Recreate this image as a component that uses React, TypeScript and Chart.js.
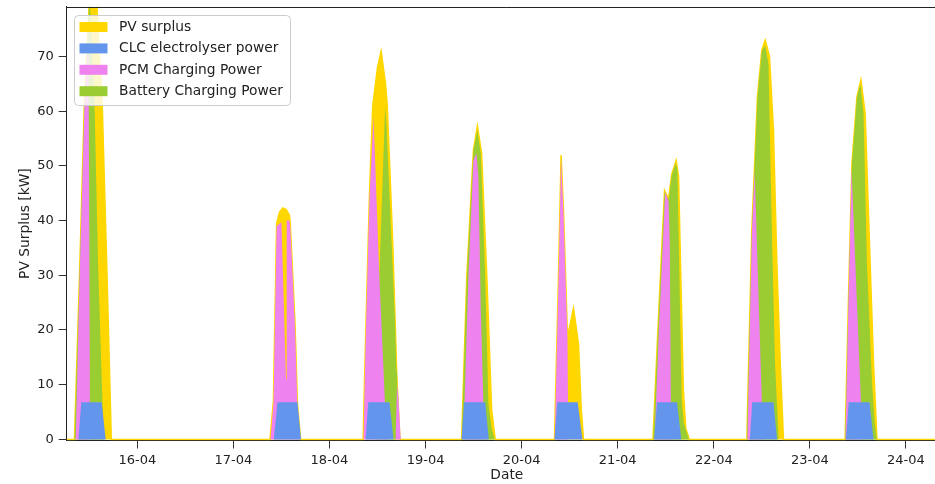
import React, { useEffect, useRef } from 'react';
import { Chart, registerables } from 'chart.js';

Chart.register(...registerables);
Chart.defaults.font.family = "'DejaVu Sans', sans-serif";

// ---- data (hours of day per date index; 0 = 15-04) ----
const dayLabels = ['15-04', '16-04', '17-04', '18-04', '19-04', '20-04', '21-04', '22-04', '23-04', '24-04'];
const xTickHours = [24, 48, 72, 96, 120, 144, 168, 192, 216];
const yTicks = [0, 10, 20, 30, 40, 50, 60, 70];
const seriesNames = ['PV surplus', 'CLC electrolyser power', 'PCM Charging Power', 'Battery Charging Power'];
const seriesColors = ['#FFD700', '#6495ED', '#EE82EE', '#9ACD32'];

type Day = [number, [number, number][]];

const pvSurplus: Day[] = [
  [0, [[8.3, 0], [9.6, 31], [10.8, 62], [12.0, 80], [13.0, 88], [13.9, 79], [15.2, 62], [16.4, 31], [17.5, 0]]],
  [2, [[9.15, 0], [10.0, 7], [10.8, 39.5], [11.5, 41.5], [12.3, 42.3], [13.2, 42], [14.0, 41], [14.2, 39.5], [15.4, 21], [16.0, 6.6], [16.8, 0]]],
  [3, [[8.4, 0], [9.0, 18], [10.0, 45], [10.8, 61], [12.0, 68], [12.9, 71], [14.0, 65], [14.45, 61], [15.8, 36], [16.8, 12], [17.6, 0]]],
  [4, [[9.0, 0], [10.3, 29.7], [11.95, 52.9], [12.95, 57.3], [14.0, 52.3], [15.3, 29.7], [16.5, 5.4], [17.4, 0]]],
  [5, [[8.2, 0], [9.2, 29.7], [9.85, 52], [10.45, 41.9], [11.45, 18.8], [12.95, 24], [14.2, 17.5], [14.9, 5.4], [15.45, 0]]],
  [6, [[8.8, 0], [10.2, 22.6], [11.7, 45.5], [12.7, 44], [13.5, 48.5], [14.6, 51], [15.2, 48], [16.4, 9], [17.0, 2], [17.9, 0]]],
  [7, [[8.25, 0], [9.5, 38.3], [10.9, 62.6], [12.0, 71.2], [12.85, 73], [13.9, 70], [14.9, 56.5], [15.75, 32.2], [16.6, 13.9], [17.4, 0]]],
  [8, [[8.8, 0], [9.65, 26], [10.5, 50.4], [11.75, 62.6], [12.75, 65.7], [13.8, 59.6], [15.05, 32.2], [15.9, 13.9], [16.75, 0]]],
];

const clcPower: Day[] = [
  [0, [[9.3, 0], [10.0, 6.8], [15.1, 6.8], [16.1, 0]]],
  [2, [[10.1, 0], [11.0, 6.8], [16.0, 6.8], [16.9, 0]]],
  [3, [[9.0, 0], [9.7, 6.8], [15.0, 6.8], [16.0, 0]]],
  [4, [[9.0, 0], [9.6, 6.8], [14.9, 6.8], [15.8, 0]]],
  [5, [[8.2, 0], [8.9, 6.8], [14.0, 6.8], [15.2, 0]]],
  [6, [[9.1, 0], [9.8, 6.8], [14.8, 6.8], [15.9, 0]]],
  [7, [[9.0, 0], [9.6, 6.8], [14.9, 6.8], [15.8, 0]]],
  [8, [[9.0, 0], [9.7, 6.8], [14.9, 6.8], [15.9, 0]]],
];

const pcmPower: Day[] = [
  [0, [[8.6, 0], [9.6, 30], [10.8, 61], [11.8, 74], [12.2, 0]]],
  [2, [[9.25, 0], [10.0, 6.5], [10.8, 39], [12.0, 39.7], [13.15, 11], [13.3, 40], [14.0, 40], [14.2, 39], [15.4, 20.5], [16.0, 6.2], [16.75, 0]]],
  [3, [[8.5, 0], [9.0, 17.5], [10.0, 44.5], [11.0, 59], [12.45, 30], [13.9, 6], [14.8, 0], [16.5, 0], [16.9, 10], [17.2, 8], [17.8, 0]]],
  [4, [[9.45, 0], [10.7, 29.7], [11.95, 51], [12.7, 52.3], [13.2, 48], [13.8, 23.6], [14.45, 6.6], [15.0, 0]]],
  [5, [[8.25, 0], [9.2, 29], [9.85, 51.5], [10.45, 41.5], [11.45, 18.5], [11.65, 0]]],
  [6, [[9.2, 0], [10.4, 22], [11.85, 45.2], [12.7, 43.5], [13.0, 36], [13.3, 5], [13.5, 0]]],
  [7, [[8.4, 0], [9.5, 37.5], [10.2, 49], [12.0, 7], [12.3, 0]]],
  [8, [[8.9, 0], [9.65, 25.5], [10.4, 49.5], [12.75, 7], [13.0, 0]]],
];

const batteryPower: Day[] = [
  [0, [[8.3, 0], [9.6, 31], [10.8, 62], [12.0, 80], [12.3, 78], [13.3, 62], [14.2, 32], [15.2, 9], [15.6, 0]]],
  [3, [[11.9, 0], [12.45, 30], [13.9, 60.8], [14.2, 58], [16.4, 21], [16.7, 13], [16.9, 12], [17.0, 0]]],
  [4, [[9.0, 0], [10.3, 29.7], [11.95, 52.9], [12.95, 56.5], [13.8, 52.3], [14.9, 29.7], [15.7, 6.6], [16.5, 2], [17.3, 0]]],
  [6, [[8.85, 0], [10.2, 22.4], [11.7, 45.3], [12.7, 43.8], [13.5, 48.3], [14.5, 50.5], [14.9, 49.3], [16.0, 7.2], [16.5, 3], [17.8, 0]]],
  [7, [[8.25, 0], [9.5, 38.3], [10.9, 62.6], [12.0, 71], [12.8, 72], [13.65, 68.7], [14.5, 38.3], [15.3, 13.9], [15.75, 7], [16.2, 0]]],
  [8, [[8.8, 0], [9.65, 26], [10.5, 50.4], [11.75, 62.6], [12.6, 65], [13.4, 59.6], [14.25, 32.2], [15.5, 10.8], [16.2, 3], [16.75, 0]]],
];

const X_MIN = 6.36;
const X_MAX = 226.25;
const Y_MIN = -0.2;
const Y_MAX = 79.1;

function toPoints(days: Day[]) {
  const pts: { x: number; y: number }[] = [{ x: X_MIN, y: 0 }];
  days.forEach(([d, arr]) => arr.forEach(([h, v]) => pts.push({ x: d * 24 + h, y: v })));
  pts.push({ x: X_MAX, y: 0 });
  return pts;
}

const TEXT = '#222222';

const framePlugin = {
  id: 'frameTop',
  afterDatasetsDraw(chart: any) {
    const { ctx, chartArea } = chart;
    ctx.save();
    ctx.strokeStyle = '#222222';
    ctx.lineWidth = 1;
    ctx.beginPath();
    const y = Math.round(chartArea.top) + 0.5;
    ctx.moveTo(chartArea.left, y);
    ctx.lineTo(chartArea.right, y);
    ctx.stroke();
    ctx.restore();
  },
};

const legendPlugin = {
  id: 'boxLegend',
  afterDraw(chart: any) {
    const { ctx, chartArea } = chart;
    const x = Math.round(chartArea.left + 7.3) + 0.5;
    const y = Math.round(chartArea.top + 7.8) + 0.5;
    const w = 216;
    const h = 90;
    ctx.save();
    ctx.beginPath();
    ctx.roundRect(x, y, w, h, 4);
    ctx.fillStyle = 'rgba(255,255,255,0.8)';
    ctx.fill();
    ctx.strokeStyle = '#cccccc';
    ctx.lineWidth = 1;
    ctx.stroke();
    ctx.font = "13.8px 'DejaVu Sans', sans-serif";
    ctx.textBaseline = 'middle';
    ctx.textAlign = 'left';
    chart.data.datasets.forEach((ds: any, i: number) => {
      const cy = y + 11.5 + i * 21.4;
      ctx.fillStyle = ds.backgroundColor;
      ctx.fillRect(x + 5, cy - 5, 28, 10);
      ctx.fillStyle = TEXT;
      ctx.fillText(ds.label, x + 44.5, cy + 0.5);
    });
    ctx.restore();
  },
};

export default function App() {
  const ref = useRef<HTMLCanvasElement>(null);

  useEffect(() => {
    const canvas = ref.current;
    if (!canvas) return;
    const mk = (i: number, days: Day[], order: number, border: boolean) => ({
      label: seriesNames[i],
      data: toPoints(days),
      backgroundColor: seriesColors[i],
      borderColor: border ? seriesColors[i] : 'rgba(0,0,0,0)',
      borderWidth: border ? 1.5 : 0,
      fill: 'origin',
      order,
      pointRadius: 0,
      tension: 0,
    });
    const datasets = [
      mk(0, pvSurplus, 4, true),
      mk(1, clcPower, 1, false),
      mk(2, pcmPower, 2, false),
      mk(3, batteryPower, 3, false),
    ];
    const chart = new Chart(canvas, {
      type: 'line',
      data: { datasets } as any,
      options: {
        animation: false,
        responsive: false,
        devicePixelRatio: 1,
        layout: { padding: { top: 6.7, left: 0, right: 0, bottom: 0 } },
        plugins: { legend: { display: false }, tooltip: { enabled: false } },
        scales: {
          x: {
            type: 'linear',
            min: X_MIN,
            max: X_MAX,
            afterBuildTicks: (s: any) => {
              s.ticks = xTickHours.map((v) => ({ value: v }));
            },
            afterFit: (s: any) => {
              s.height = 43.5;
              s.paddingLeft = 0;
              s.paddingRight = 0;
            },
            ticks: {
              autoSkip: false,
              maxRotation: 0,
              padding: 4,
              color: TEXT,
              font: { size: 13 },
              callback: (v: any) => dayLabels[Math.round(Number(v) / 24)],
            },
            grid: { drawOnChartArea: false, drawTicks: true, tickLength: 8, color: '#333333', tickWidth: 1 },
            border: { display: true, color: '#222222', width: 1 },
            title: { display: true, text: 'Date', color: TEXT, font: { size: 13.8 }, padding: { top: 0, bottom: 0 } },
          },
          y: {
            type: 'linear',
            min: Y_MIN,
            max: Y_MAX,
            afterBuildTicks: (s: any) => {
              s.ticks = yTicks.map((v) => ({ value: v }));
            },
            afterFit: (s: any) => {
              s.width = 66.7;
              s.paddingTop = 0;
              s.paddingBottom = 0;
            },
            ticks: {
              padding: 5,
              color: TEXT,
              font: { size: 13 },
              callback: (v: any) => String(v),
            },
            grid: { drawOnChartArea: false, drawTicks: true, tickLength: 8, color: '#333333', tickWidth: 1 },
            border: { display: true, color: '#222222', width: 1 },
            title: { display: true, text: 'PV Surplus [kW]', color: TEXT, font: { size: 13.8 }, padding: { top: 17.2, bottom: 0 } },
          },
        },
      } as any,
      plugins: [framePlugin, legendPlugin],
    });
    return () => chart.destroy();
  }, []);

  return (
    <div style={{ position: 'fixed', left: 0, top: 0, width: 935, height: 484, overflow: 'hidden', background: '#ffffff' }}>
      <canvas ref={ref} width={947} height={484} style={{ width: 947, height: 484, display: 'block' }} />
    </div>
  );
}
